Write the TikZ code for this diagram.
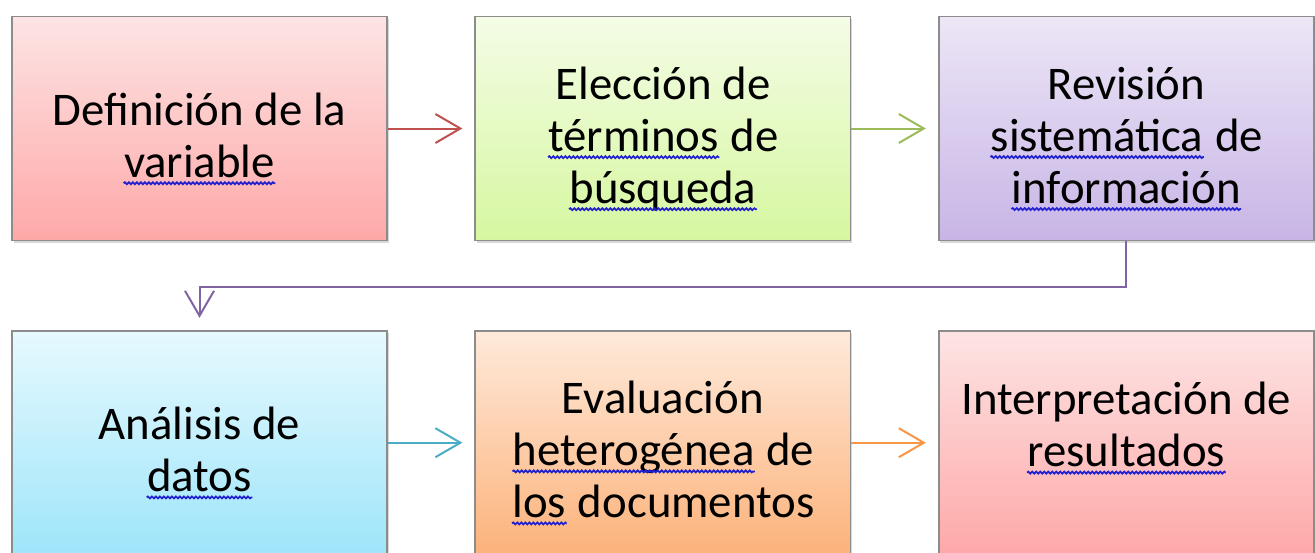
\documentclass[tikz,border=0pt]{standalone}
\usepackage{fontspec}
\setmainfont{Carlito}
\usetikzlibrary{positioning}
\usetikzlibrary{shadows}
\usetikzlibrary{arrows.meta}
\usetikzlibrary{decorations.pathmorphing}

\definecolor{boxgray}{HTML}{8C8C8C}
\definecolor{spellblue}{HTML}{2020D0}
\definecolor{redtop}{HTML}{FDE4E4}
\definecolor{redbot}{HTML}{FEA8A8}
\definecolor{greentop}{HTML}{F4FCE6}
\definecolor{greenbot}{HTML}{D6F7A0}
\definecolor{purpletop}{HTML}{ECE6F6}
\definecolor{purplebot}{HTML}{C8B5E6}
\definecolor{cyantop}{HTML}{E6F9FE}
\definecolor{cyanbot}{HTML}{9EE5FA}
\definecolor{orangetop}{HTML}{FEEADB}
\definecolor{orangebot}{HTML}{FCB27A}
\definecolor{redline}{HTML}{C0504D}
\definecolor{greenline}{HTML}{9BBB59}
\definecolor{purpleline}{HTML}{8064A2}
\definecolor{blueline}{HTML}{4BACC6}
\definecolor{orangeline}{HTML}{F79646}

% wavy spell-check underline
\newcommand\squig[1]{\tikz[baseline=(w.base)]{\node[inner sep=0pt] (w) {#1};
  \draw[spellblue, line width=0.85pt, decorate, decoration={snake, amplitude=0.5pt, segment length=2pt}]
    ([yshift=-3pt]w.base west) -- ([yshift=-3pt]w.base east);}}

\tikzset{
  stepbox/.style 2 args={draw=boxgray, line width=0.9pt, minimum width=187.6pt, minimum height=112pt,
    inner sep=0pt, shading=axis, top color=#1, bottom color=#2,
    drop shadow={shadow xshift=0.8pt, shadow yshift=-1.2pt, opacity=0.3}},
  steptext/.style={align=center, inner sep=0pt, font=\fontsize{23.4}{26}\selectfont},
  flow/.style={line width=1pt, -{Straight Barb[length=12.5pt,width=14.5pt,line width=1pt]}}
}

\begin{document}
\begin{tikzpicture}[x=0.5pt, y=-0.5pt, node distance=44.2pt and 43.2pt]
  \clip (0,0) rectangle (1315,552);
  \fill[white] (0,0) rectangle (1315,552);
  % boxes
  \node[stepbox={redtop}{redbot}] (def) at (199.5,128.5) {};
  \node[stepbox={greentop}{greenbot}, right=of def] (ele) {};
  \node[stepbox={purpletop}{purplebot}, right=of ele] (rev) {};
  \node[stepbox={cyantop}{cyanbot}, below=of def] (ana) {};
  \node[stepbox={orangetop}{orangebot}, right=of ana] (eva) {};
  \node[stepbox={redtop}{redbot}, right=of eva] (int) {};
  % texts
  \node[steptext] (def-t) at ([yshift=-5.2pt]def) {Definición de la\\\squig{variable}};
  \node[steptext] (ele-t) at ([yshift=-5.2pt]ele) {Elección de\\\squig{términos} de\\\squig{búsqueda}};
  \node[steptext] (rev-t) at ([yshift=-5.2pt]rev) {Revisión\\\squig{sistemática} de\\\squig{información}};
  \node[steptext] (ana-t) at ([yshift=-5.2pt]ana) {Análisis de\\\squig{datos}};
  \node[steptext] (eva-t) at ([yshift=-5.2pt]eva) {Evaluación\\\squig{heterogénea} de\\\squig{los} documentos};
  \node[steptext] (int-t) at ([yshift=7.2pt]int) {Interpretación de\\\squig{resultados}};
  % arrows
  \draw[flow, redline] (def) -- ([xshift=-6pt]ele.west);
  \draw[flow, greenline] (ele) -- ([xshift=-6pt]rev.west);
  \draw[flow, purpleline] (rev.south) -- ++(0,46) -| ([yshift=6pt]ana.north);
  \draw[flow, blueline] (ana) -- ([xshift=-6pt]eva.west);
  \draw[flow, orangeline] (eva) -- ([xshift=-6pt]int.west);
\end{tikzpicture}
\end{document}
